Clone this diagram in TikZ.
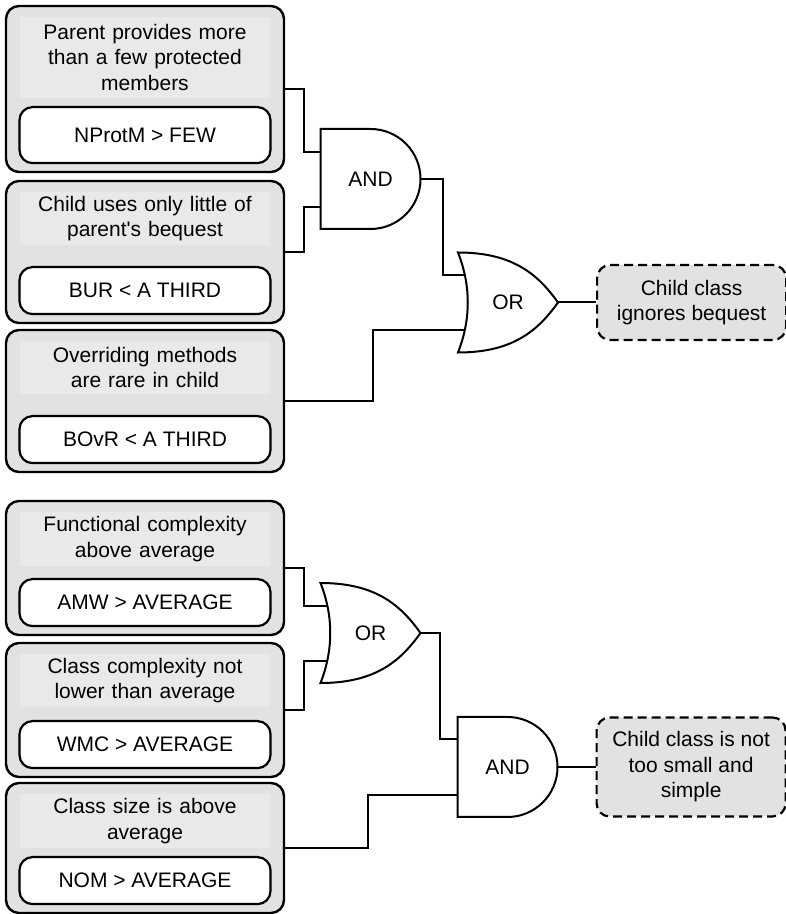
\documentclass[tikz,border=0pt]{standalone}
\usepackage{fontspec}
\setmainfont{Liberation Sans}[Ligatures=TeXOff]
\usepackage{tikz}
\usetikzlibrary{positioning}
\definecolor{dmgray}{RGB}{226,226,226}
\definecolor{dmlightgray}{RGB}{233,233,233}
\tikzstyle{condition} = [rectangle, rounded corners=13pt, minimum width=278pt, draw=black, fill=dmgray, line width=2.4pt]
\tikzstyle{question} = [rectangle, fill=dmlightgray, minimum width=250pt, text width=246pt, align=center, inner sep=0pt]
\tikzstyle{metric} = [rectangle, rounded corners=13pt, minimum width=251pt, minimum height=47pt, draw=black, fill=white, line width=2.2pt]
\tikzstyle{gate} = [rectangle, minimum width=100pt, minimum height=100pt, inner sep=0pt, outer sep=0pt]
\tikzstyle{gateline} = [line width=2pt]
\tikzstyle{wire} = [line width=2pt]
\tikzstyle{result} = [rectangle, rounded corners=13pt, minimum width=189pt, draw=black, fill=dmgray, line width=2.2pt, dash pattern=on 9pt off 5pt, align=center]

\begin{document}
\begin{tikzpicture}[x=1pt, y=1pt, font=\fontsize{21pt}{25.5pt}\selectfont]
\useasboundingbox (0,0) rectangle (786,914);

% Top group
\node[condition, minimum height=166pt] (b1) at (145,825) {};
\node[question, minimum height=81pt, below=12pt of b1.north] (q1) {Parent provides more\\than a few protected\\members};
\node[metric, minimum height=56pt, above=9pt of b1.south] (m1) {NProtM > FEW};

\node[condition, minimum height=142pt] (b2) at (145,662) {};
\node[question, minimum height=53pt, below=12pt of b2.north] (q2) {Child uses only little of\\parent's bequest};
\node[metric, above=9pt of b2.south] (m2) {BUR < A THIRD};

\node[condition, minimum height=142pt] (b3) at (145,513) {};
\node[question, minimum height=53pt, below=12pt of b3.north] (q3) {Overriding methods\\are rare in child};
\node[metric, above=9pt of b3.south] (m3) {BOvR < A THIRD};

% Gates
\node[gate] (and1) at (370.5,735) {AND};
\node[gate] (or1) at (508,611.5) {OR};
\coordinate (and1 in1) at ([yshift=27pt]and1.west);
\coordinate (and1 in2) at ([yshift=-28pt]and1.west);
\coordinate (or1 in1) at ([shift={(6.7,27)}]or1.west);
\coordinate (or1 in2) at ([shift={(6.7,-28)}]or1.west);
\draw[gateline] (and1.north west) -- ++(50,0) arc[start angle=90, end angle=-90, radius=50] -- (and1.south west) -- cycle;
\draw[gateline] (or1.south west) .. controls +(13,33) and +(13,-33) .. (or1.north west)
  .. controls +(55,0) and +(-20,28) .. (or1.east)
  .. controls +(-20,-28) and +(55,0) .. (or1.south west) -- cycle;

\node[result, minimum height=75pt, right=38pt of or1] (r1) {Child class\\ignores bequest};

% Wires
\draw[wire] (b1.east) -- ++(19,0) |- (and1 in1);
\draw[wire] (b2.east) -- ++(19,0) |- (and1 in2);
\draw[wire] (and1.east) -- ++(22,0) |- (or1 in1);
\draw[wire] (b3.east) -- ++(88,0) |- (or1 in2);
\draw[wire] (or1.east) -- (r1.west);

% Bottom group
\node[condition, minimum height=134pt] (b4) at (145,346) {};
\node[question, minimum height=54pt, below=12pt of b4.north] (q4) {Functional complexity\\above average};
\node[metric, above=9pt of b4.south] (m4) {AMW > AVERAGE};

\node[condition, minimum height=134pt] (b5) at (145,204) {};
\node[question, minimum height=53pt, below=12pt of b5.north] (q5) {Class complexity not\\lower than average};
\node[metric, above=9pt of b5.south] (m5) {WMC > AVERAGE};

\node[condition, minimum height=130pt] (b6) at (145,66) {};
\node[question, minimum height=54pt, below=12pt of b6.north] (q6) {Class size is above\\average};
\node[metric, above=9pt of b6.south] (m6) {NOM > AVERAGE};

% Gates
\node[gate] (or2) at (370.5,281) {OR};
\node[gate] (and2) at (507.5,147) {AND};
\coordinate (or2 in1) at ([shift={(6.7,27)}]or2.west);
\coordinate (or2 in2) at ([shift={(6.7,-28)}]or2.west);
\coordinate (and2 in1) at ([yshift=28pt]and2.west);
\coordinate (and2 in2) at ([yshift=-28pt]and2.west);
\draw[gateline] (or2.south west) .. controls +(13,33) and +(13,-33) .. (or2.north west)
  .. controls +(55,0) and +(-20,28) .. (or2.east)
  .. controls +(-20,-28) and +(55,0) .. (or2.south west) -- cycle;
\draw[gateline] (and2.north west) -- ++(50,0) arc[start angle=90, end angle=-90, radius=50] -- (and2.south west) -- cycle;

\node[result, minimum height=99pt, right=38pt of and2] (r2) {Child class is not\\too small and\\simple};

% Wires
\draw[wire] (b4.east) -- ++(19,0) |- (or2 in1);
\draw[wire] (b5.east) -- ++(19,0) |- (or2 in2);
\draw[wire] (or2.east) -- ++(19,0) |- (and2 in1);
\draw[wire] (b6.east) -- ++(83,0) |- (and2 in2);
\draw[wire] (and2.east) -- (r2.west);
\end{tikzpicture}
\end{document}
